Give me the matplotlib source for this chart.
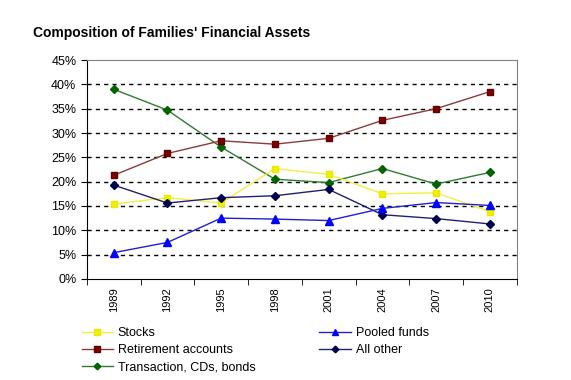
import numpy as np
import matplotlib.pyplot as plt
from matplotlib.ticker import PercentFormatter

plt.rcParams['font.family'] = ['Liberation Sans', 'DejaVu Sans']

years = ['1989', '1992', '1995', '1998', '2001', '2004', '2007', '2010']
stocks = [15.4, 16.7, 15.6, 22.7, 21.5, 17.5, 17.7, 13.8]
retirement = [21.3, 25.8, 28.4, 27.7, 28.9, 32.6, 35.0, 38.5]
transaction = [39.0, 34.7, 27.1, 20.5, 19.8, 22.7, 19.5, 21.9]
pooled = [5.4, 7.5, 12.5, 12.3, 12.0, 14.5, 15.7, 15.1]
other = [19.3, 15.6, 16.7, 17.1, 18.4, 13.2, 12.4, 11.3]

fig = plt.figure(figsize=(5.71, 3.80), dpi=100)
ax = fig.add_axes([0.152, 0.266, 0.753, 0.576])
x = np.arange(len(years))

# plotted in back-to-front order, legend order set below
l_trans, = ax.plot(x, transaction, color='#2e7d2e', marker='D', markersize=4,
                   markerfacecolor='#006400', markeredgecolor='#006400', lw=1, label='Transaction, CDs, bonds')
l_ret, = ax.plot(x, retirement, color='#8b3a3a', marker='s', markersize=5,
                 markerfacecolor='#800000', markeredgecolor='#600000', lw=1, label='Retirement accounts')
l_stk, = ax.plot(x, stocks, color='#f0f040', marker='s', markersize=5,
                 markerfacecolor='#f0f000', markeredgecolor='#e8e800', lw=1, label='Stocks')
l_oth, = ax.plot(x, other, color='#202070', marker='D', markersize=4,
                 markerfacecolor='#000050', markeredgecolor='#000050', lw=1, label='All other')
l_pool, = ax.plot(x, pooled, color='#2020d0', marker='^', markersize=5.5,
                  markerfacecolor='#0000ff', markeredgecolor='#0000ff', lw=1, label='Pooled funds')

ax.set_xlim(-0.5, len(years) - 0.5)
ax.set_ylim(0, 45)
ax.set_yticks(np.arange(0, 46, 5))
ax.yaxis.set_major_formatter(PercentFormatter(decimals=0))
ax.set_xticks(x)
ax.set_xticklabels(years, rotation=90)
ax.set_xticks(np.arange(-0.5, len(years), 1), minor=True)
ax.tick_params(axis='x', which='major', length=0, labelsize=8, pad=6)
ax.tick_params(axis='x', which='minor', length=4, direction='out')
ax.tick_params(axis='y', length=4, direction='out', labelsize=9)

for v in range(5, 45, 5):
    ax.axhline(v, color='black', ls=(0, (3, 3)), lw=1, zorder=0)

ax.spines['left'].set_color('black')
ax.spines['bottom'].set_color('black')
ax.spines['top'].set_color('#808080')
ax.spines['right'].set_color('#808080')

fig.text(0.058, 0.912, "Composition of Families' Financial Assets",
         fontsize=10, fontweight='bold', va='center')

fig.legend(handles=[l_stk, l_ret, l_trans, l_pool, l_oth], ncol=2,
           loc='upper left', bbox_to_anchor=(0.132, 0.155), frameon=False,
           fontsize=9, handlelength=2.5, labelspacing=0.4, columnspacing=5.1,
           borderpad=0, handletextpad=0.4, markerscale=0.85)

fig.savefig('out.png', dpi=100)
